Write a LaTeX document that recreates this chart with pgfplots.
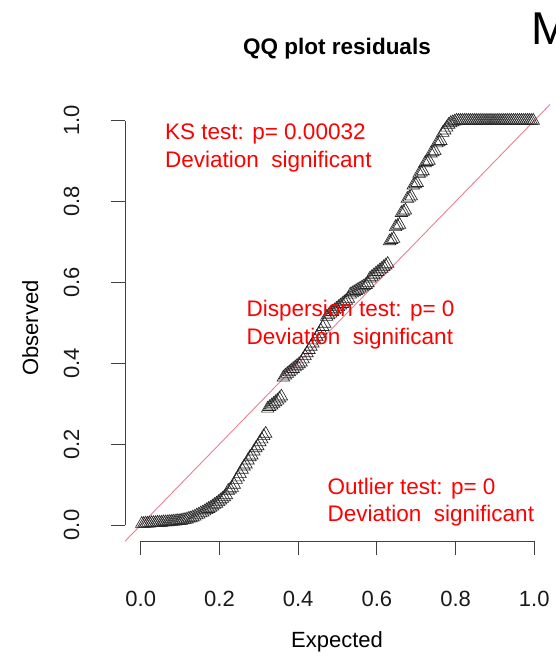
\documentclass[border=0pt]{standalone}
\usepackage{pgfplots}
\pgfplotsset{compat=1.18}
\usepackage{pgfplotstable}
\usepackage{fontspec}
\setmainfont{Liberation Sans}
\definecolor{qqline}{RGB}{232,128,146}
\definecolor{rred}{RGB}{255,0,0}
\pgfplotstableread{
x y
0.0025 0.003
0.0075 0.003
0.0125 0.004
0.0175 0.004
0.0225 0.004
0.0275 0.005
0.0325 0.005
0.0375 0.005
0.0425 0.006
0.0475 0.006
0.0525 0.006
0.0575 0.007
0.0625 0.007
0.0675 0.007
0.0725 0.008
0.0775 0.008
0.0825 0.009
0.0875 0.009
0.0925 0.010
0.0975 0.010
0.1025 0.011
0.1075 0.012
0.1125 0.013
0.1175 0.014
0.1225 0.016
0.1275 0.017
0.1325 0.019
0.1375 0.021
0.1425 0.024
0.1475 0.026
0.1525 0.029
0.1575 0.031
0.1625 0.034
0.1675 0.037
0.1725 0.040
0.1775 0.043
0.1825 0.046
0.1875 0.050
0.1925 0.053
0.1975 0.057
0.2025 0.061
0.2075 0.065
0.2125 0.069
0.2175 0.074
0.2225 0.085
0.2275 0.088
0.2325 0.092
0.2375 0.100
0.2425 0.112
0.2475 0.118
0.2525 0.126
0.2575 0.137
0.2625 0.145
0.2675 0.150
0.2725 0.160
0.2775 0.168
0.2825 0.172
0.2875 0.182
0.2925 0.190
0.2975 0.195
0.3025 0.205
0.3075 0.212
0.3125 0.220
0.3175 0.226
0.3225 0.288
0.3275 0.292
0.3325 0.296
0.3375 0.300
0.3425 0.304
0.3475 0.308
0.3525 0.313
0.3575 0.318
0.3625 0.365
0.3675 0.370
0.3725 0.374
0.3775 0.378
0.3825 0.382
0.3875 0.386
0.3925 0.390
0.3975 0.394
0.4025 0.398
0.4075 0.402
0.4125 0.410
0.4175 0.418
0.4225 0.425
0.4275 0.433
0.4325 0.441
0.4375 0.449
0.4425 0.457
0.4475 0.465
0.4525 0.473
0.4575 0.481
0.4625 0.490
0.4675 0.498
0.4725 0.515
0.4775 0.519
0.4825 0.523
0.4875 0.527
0.4925 0.531
0.4975 0.535
0.5025 0.539
0.5075 0.543
0.5125 0.547
0.5175 0.551
0.5225 0.555
0.5275 0.560
0.5325 0.570
0.5375 0.573
0.5425 0.576
0.5475 0.579
0.5525 0.582
0.5575 0.585
0.5625 0.588
0.5675 0.591
0.5725 0.594
0.5775 0.598
0.5825 0.610
0.5875 0.614
0.5925 0.618
0.5975 0.622
0.6025 0.626
0.6075 0.630
0.6125 0.634
0.6175 0.638
0.6225 0.642
0.6275 0.646
0.6325 0.702
0.6375 0.705
0.6425 0.708
0.6475 0.737
0.6525 0.740
0.6575 0.743
0.6625 0.772
0.6675 0.775
0.6725 0.778
0.6775 0.807
0.6825 0.810
0.6875 0.813
0.6925 0.840
0.6975 0.843
0.7025 0.846
0.7075 0.869
0.7125 0.872
0.7175 0.875
0.7225 0.895
0.7275 0.898
0.7325 0.901
0.7375 0.919
0.7425 0.922
0.7475 0.925
0.7525 0.944
0.7575 0.947
0.7625 0.950
0.7675 0.970
0.7725 0.976
0.7775 0.983
0.7825 0.990
0.7875 0.994
0.7925 0.996
0.7975 0.998
0.8025 1.000
0.8075 1.000
0.8125 1.000
0.8175 1.000
0.8225 1.000
0.8275 1.000
0.8325 1.000
0.8375 1.000
0.8425 1.000
0.8475 1.000
0.8525 1.000
0.8575 1.000
0.8625 1.000
0.8675 1.000
0.8725 1.000
0.8775 1.000
0.8825 1.000
0.8875 1.000
0.8925 1.000
0.8975 1.000
0.9025 1.000
0.9075 1.000
0.9125 1.000
0.9175 1.000
0.9225 1.000
0.9275 1.000
0.9325 1.000
0.9375 1.000
0.9425 1.000
0.9475 1.000
0.9525 1.000
0.9575 1.000
0.9625 1.000
0.9675 1.000
0.9725 1.000
0.9775 1.000
0.9825 1.000
0.9875 1.000
0.9925 1.000
0.9975 1.000
}\qqdata
\begin{document}
\begin{tikzpicture}[x=1bp,y=1bp]
\useasboundingbox (0,0) rectangle (556,653);
\begin{axis}[
  at={(125bp,111.8bp)}, anchor=south west,
  scale only axis, width=425bp, height=436.7bp,
  xmin=-0.04, xmax=1.04, ymin=-0.04, ymax=1.04,
  axis line style={draw=none},
  xtick={0,0.2,0.4,0.6,0.8,1}, ytick={0,0.2,0.4,0.6,0.8,1},
  xticklabels={0.0,0.2,0.4,0.6,0.8,1.0},
  yticklabels={0.0,0.2,0.4,0.6,0.8,1.0},
  tick pos=left, tick align=outside, major tick length=14bp,
  tick style={black!75, line width=0.75bp},
  tick label style={font=\fontsize{22bp}{26bp}\selectfont, text=black!90},
  xticklabel style={anchor=base, yshift=-51.5bp},
  yticklabel style={xshift=-32bp, rotate=90, anchor=base},
  clip=false,
]
\addplot[only marks, mark=triangle, mark size=7.2bp,
  mark options={draw=black!85, line width=0.65bp, fill=none}] table[x=x,y=y] {\qqdata};
\addplot[qqline, line width=0.9bp, no marks] coordinates {(-0.04,-0.04) (1.04,1.04)};
\draw[black!75, line width=0.75bp] (axis cs:0,-0.04) -- (axis cs:1,-0.04);
\draw[black!75, line width=0.75bp] (axis cs:-0.04,0) -- (axis cs:-0.04,1);
\end{axis}
\begin{scope}[every node/.style={inner sep=0pt, text=rred, font=\fontsize{22.5bp}{27bp}\selectfont, anchor=base west}]
\node at (165,513) {KS test: p= 0.00032};
\node at (165,485) {Deviation\ \ significant};
\node at (246.5,336.3) {Dispersion test: p= 0};
\node at (246.5,308) {Deviation\ \ significant};
\node at (327.5,158) {Outlier test: p= 0};
\node at (327.5,131.3) {Deviation\ \ significant};
\end{scope}
\node[inner sep=0pt, anchor=base, font=\fontsize{22.5bp}{27bp}\selectfont\bfseries] at (337,598) {QQ plot residuals};
\node[inner sep=0pt, anchor=base, font=\fontsize{22bp}{26bp}\selectfont] at (337,5.3) {Expected};
\node[inner sep=0pt, anchor=base, rotate=90, font=\fontsize{22bp}{26bp}\selectfont] at (38,325) {Observed};
\node[inner sep=0pt, anchor=base west, font=\fontsize{46bp}{50bp}\selectfont] at (531.6,608) {M};
\end{tikzpicture}
\end{document}
